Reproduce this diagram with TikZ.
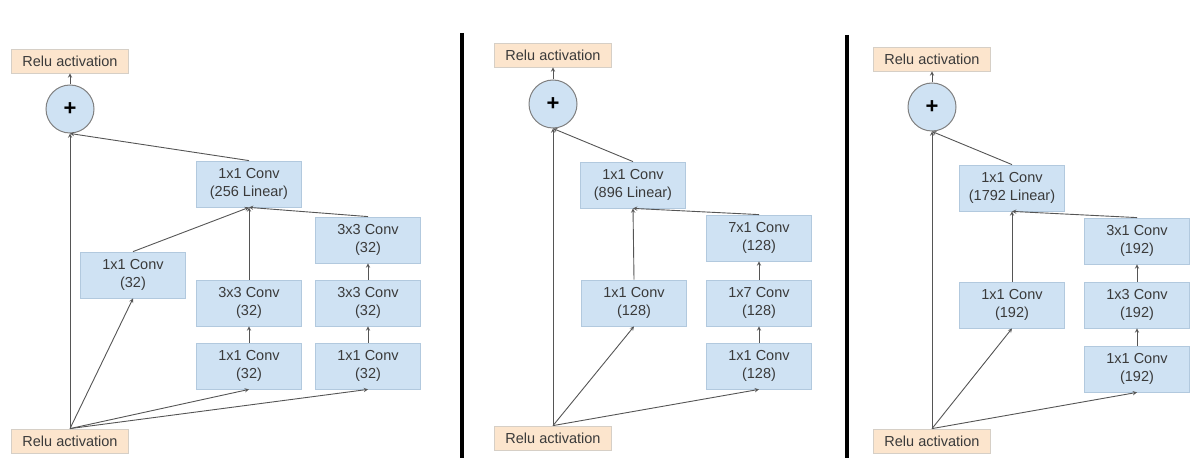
\documentclass[tikz,border=0pt]{standalone}
\usepackage{fontspec}
\setmainfont{Liberation Sans}
\usepackage{tikz}
\usetikzlibrary{arrows,shapes}
\definecolor{convblue}{HTML}{CFE2F3}
\definecolor{convedge}{HTML}{B2C9DE}
\definecolor{reluorange}{HTML}{FCE5CD}
\definecolor{reluedge}{HTML}{D6CFC6}
\definecolor{linkgray}{HTML}{555555}
\definecolor{labelgray}{HTML}{3A3A3A}
\tikzstyle{conv}=[rectangle,fill=convblue,draw=convedge,line width=0.8pt,minimum width=105pt,minimum height=46pt,inner sep=0pt,align=center,text=labelgray,font=\fontsize{14.5}{17.5}\selectfont]
\tikzstyle{relu}=[rectangle,fill=reluorange,draw=reluedge,line width=0.8pt,minimum width=117pt,minimum height=24pt,inner sep=0pt,text=labelgray,font=\fontsize{14.5}{17.5}\selectfont]
\tikzstyle{sum}=[circle,fill=convblue,draw=gray,line width=1pt,minimum size=48pt,inner sep=0pt,font=\fontsize{22}{22}\bfseries\selectfont]
\tikzstyle{arrow}=[draw,->,>=stealth,linkgray,line width=0.9pt]
\tikzstyle{divider}=[draw,black,line width=4pt]

\begin{document}
\begin{tikzpicture}[x=1pt,y=-1pt]
    \useasboundingbox (0,0) rectangle (1198,473);
    % relu in / out and the sum
    \foreach \x/\top/\mid/\bot/\p in {70/61/109/441/A, 553/55/104/438/B, 932/59/107/441/C} {
        \node[relu] (reluout\p) at (\x,\top) {Relu activation};
        \node[sum] (sum\p) at (\x,\mid) {+};
        \node[relu] (reluin\p) at (\x,\bot) {Relu activation};
    }
    % conv blocks
    \foreach \pos/\name/\txt in {{(249,184)/linA/1x1 Conv\\(256 Linear)}, {(133,275)/aA/1x1 Conv\\(32)},
        {(249,366)/bA1/1x1 Conv\\(32)}, {(249,303)/bA2/3x3 Conv\\(32)},
        {(368,366)/cA1/1x1 Conv\\(32)}, {(368,303)/cA2/3x3 Conv\\(32)}, {(368,240)/cA3/3x3 Conv\\(32)},
        {(633,185)/linB/1x1 Conv\\(896 Linear)}, {(634,303)/aB/1x1 Conv\\(128)},
        {(759,366)/cB1/1x1 Conv\\(128)}, {(759,303)/cB2/1x7 Conv\\(128)}, {(759,238)/cB3/7x1 Conv\\(128)},
        {(1012,188)/linC/1x1 Conv\\(1792 Linear)}, {(1012,305)/aC/1x1 Conv\\(192)},
        {(1137,369)/cC1/1x1 Conv\\(192)}, {(1137,305)/cC2/1x3 Conv\\(192)}, {(1137,241)/cC3/3x1 Conv\\(192)}}
        \node[conv] (\name) at \pos {\txt};
    % connections
    \foreach \source/ \dest in {reluinA/sumA, reluinA/aA, reluinA/bA1, reluinA/cA1, bA1/bA2, cA1/cA2, cA2/cA3,
        aA/linA, bA2/linA, cA3/linA, linA/sumA, sumA/reluoutA,
        reluinB/sumB, reluinB/aB, reluinB/cB1, cB1/cB2, cB2/cB3, aB/linB, cB3/linB, linB/sumB, sumB/reluoutB,
        reluinC/sumC, reluinC/aC, reluinC/cC1, cC1/cC2, cC2/cC3, aC/linC, cC3/linC, linC/sumC, sumC/reluoutC}
        \path[arrow] (\source.north) -- (\dest.south);
    % panel dividers
    \draw[divider] (462,33) -- (462,458);
    \draw[divider] (847,35) -- (847,458);
\end{tikzpicture}
\end{document}
